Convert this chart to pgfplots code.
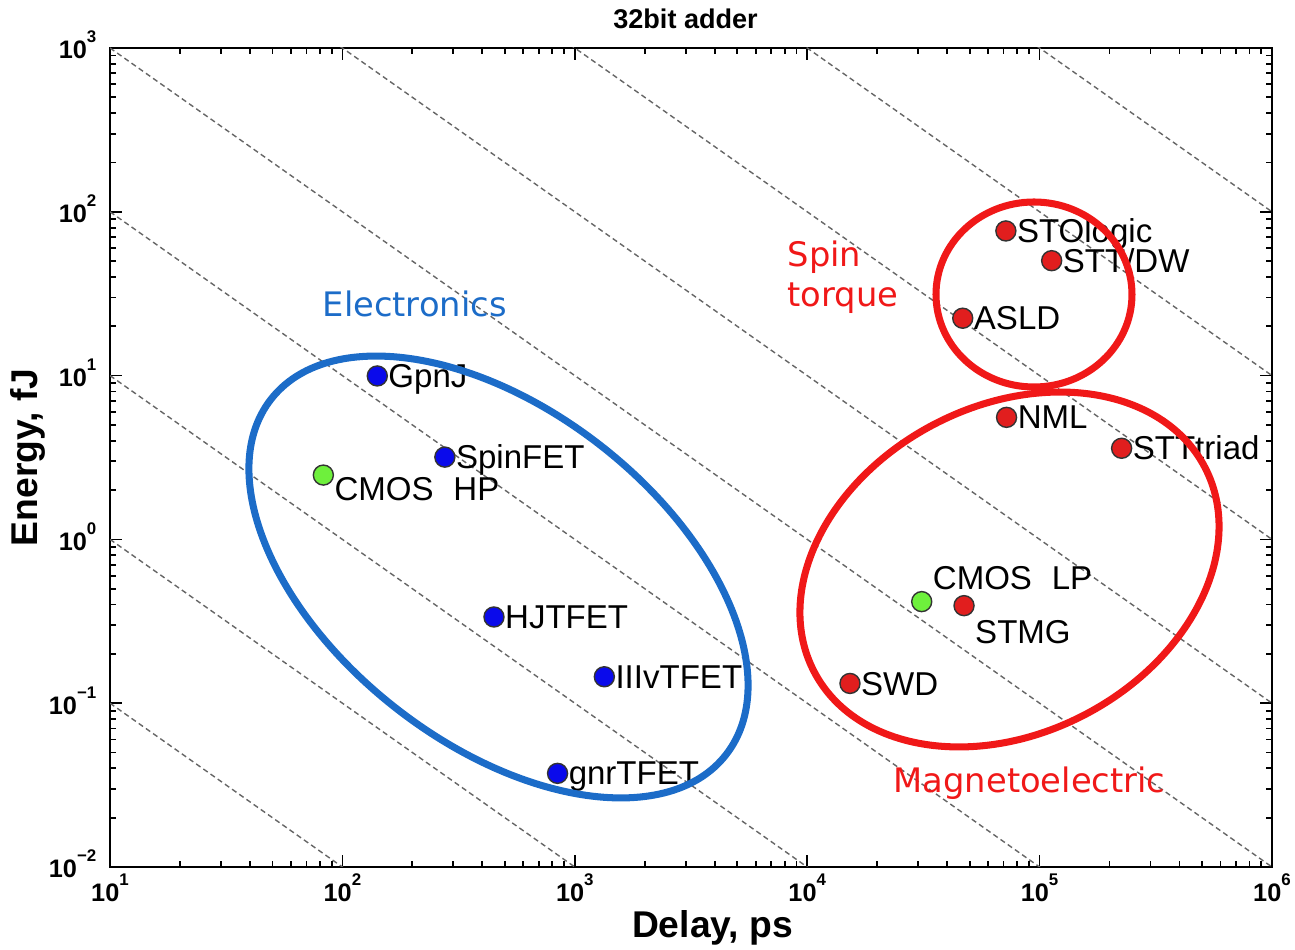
\documentclass[border=0pt]{standalone}
\usepackage{pgfplots}
\pgfplotsset{compat=1.18}
\usepackage{fontspec}
\setmainfont{Liberation Sans}
\newfontfamily\verd{DejaVu Sans}
\definecolor{eblue}{RGB}{28,108,200}
\definecolor{ered}{RGB}{240,24,24}
\definecolor{pblue}{RGB}{10,10,235}
\definecolor{pred}{RGB}{225,30,30}
\definecolor{pgreen}{RGB}{110,240,60}
\newcommand{\tl}[1]{\textbf{10}\raisebox{4.6pt}{\fontsize{4.8}{5}\selectfont\textbf{#1}}}
\tikzset{lab/.style={anchor=base west, inner sep=0pt, xshift=0.105cm, font=\fontsize{9.4}{11}\selectfont}}
\begin{document}
\begin{tikzpicture}
\path[use as bounding box] (-1.10,-0.83) rectangle (11.85,8.67);
\begin{axis}[
  at={(0,0)}, anchor=south west, scale only axis,
  width=11.62cm, height=8.19cm,
  xmode=log, ymode=log,
  xmin=10, xmax=1e6, ymin=1e-2, ymax=1e3,
  axis line style={line width=0.6pt},
  tick align=inside,
  major tick length=0.12cm, minor tick length=0.06cm,
  every tick/.append style={black, line width=0.5pt},
  xtick={1e1,1e2,1e3,1e4,1e5,1e6},
  xticklabels={\tl{1},\tl{2},\tl{3},\tl{4},\tl{5},\tl{6}},
  ytick={1e-2,1e-1,1,1e1,1e2,1e3},
  yticklabels={\tl{−2},\tl{−1},\tl{0},\tl{1},\tl{2},\tl{3}},
  minor xtick={20,30,40,50,60,70,80,90,200,300,400,500,600,700,800,900,2000,3000,4000,5000,6000,7000,8000,9000,20000,30000,40000,50000,60000,70000,80000,90000,200000,300000,400000,500000,600000,700000,800000,900000},
  minor ytick={0.02,0.03,0.04,0.05,0.06,0.07,0.08,0.09,0.2,0.3,0.4,0.5,0.6,0.7,0.8,0.9,2,3,4,5,6,7,8,9,20,30,40,50,60,70,80,90,200,300,400,500,600,700,800,900},
  xticklabel style={font=\fontsize{7.2}{8}\selectfont, anchor=base, inner sep=0pt, yshift=-0.35cm},
  yticklabel style={font=\fontsize{7.2}{8}\selectfont, anchor=base east, inner sep=0pt, xshift=-0.13cm, yshift=-0.11cm},
  every axis title shift=0pt,
  title={32bit adder},
  title style={font=\fontsize{7.7}{9}\selectfont\bfseries, at={(axis description cs:0.4953,1.0244)}, anchor=base, inner sep=0pt},
  xlabel={Delay, ps},
  xlabel style={font=\fontsize{10.6}{12}\selectfont\bfseries, at={(axis description cs:0.5185,-0.0855)}, anchor=base, inner sep=0pt},
  ylabel={Energy, fJ},
  ylabel style={font=\fontsize{10.6}{12}\selectfont\bfseries, at={(axis description cs:-0.0628,0.5)}, anchor=base, inner sep=0pt},
  clip=true,
]
% constant energy-delay product lines
\addplot[black!60, line width=0.4pt, dash pattern=on 1.5pt off 1pt, forget plot] coordinates {(10,1e-1) (1e6,1e-6)};
\addplot[black!60, line width=0.4pt, dash pattern=on 1.5pt off 1pt, forget plot] coordinates {(10,1) (1e6,1e-5)};
\addplot[black!60, line width=0.4pt, dash pattern=on 1.5pt off 1pt, forget plot] coordinates {(10,10) (1e6,1e-4)};
\addplot[black!60, line width=0.4pt, dash pattern=on 1.5pt off 1pt, forget plot] coordinates {(10,100) (1e6,1e-3)};
\addplot[black!60, line width=0.4pt, dash pattern=on 1.5pt off 1pt, forget plot] coordinates {(10,1e3) (1e6,1e-2)};
\addplot[black!60, line width=0.4pt, dash pattern=on 1.5pt off 1pt, forget plot] coordinates {(10,1e4) (1e6,1e-1)};
\addplot[black!60, line width=0.4pt, dash pattern=on 1.5pt off 1pt, forget plot] coordinates {(10,1e5) (1e6,1)};
\addplot[black!60, line width=0.4pt, dash pattern=on 1.5pt off 1pt, forget plot] coordinates {(10,1e6) (1e6,10)};
\addplot[black!60, line width=0.4pt, dash pattern=on 1.5pt off 1pt, forget plot] coordinates {(10,1e7) (1e6,100)};
% electronics
\addplot[only marks, mark=*, mark size=2.85pt, mark options={fill=pblue, draw=black!80, line width=0.4pt}]
  coordinates {(141.3,9.95) (276,3.18) (449,0.336) (1340,0.145) (843,0.0373)};
% CMOS
\addplot[only marks, mark=*, mark size=2.85pt, mark options={fill=pgreen, draw=black!80, line width=0.4pt}]
  coordinates {(82.8,2.47) (31100,0.417)};
% spin
\addplot[only marks, mark=*, mark size=2.85pt, mark options={fill=pred, draw=black!80, line width=0.4pt}]
  coordinates {(71600,76.4) (112700,50.3) (46700,22.4) (72100,5.56) (225400,3.60) (47300,0.394) (15280,0.132)};
\node[lab, yshift=-3.3pt] at (axis cs:141.3,9.95) {GpnJ};
\node[lab, yshift=-3.3pt] at (axis cs:276,3.18) {SpinFET};
\node[lab, yshift=-3.3pt] at (axis cs:449,0.336) {HJTFET};
\node[lab, yshift=-3.3pt] at (axis cs:1340,0.145) {IIIvTFET};
\node[lab, yshift=-3.3pt] at (axis cs:843,0.0373) {gnrTFET};
\node[lab, yshift=-0.25cm] at (axis cs:82.8,2.47) {CMOS\hspace{0.6em}HP};
\node[lab, yshift=0.117cm] at (axis cs:31100,0.417) {CMOS\hspace{0.6em}LP};
\node[lab, yshift=-3.3pt] at (axis cs:71600,76.4) {STOlogic};
\node[lab, yshift=-3.3pt] at (axis cs:112700,50.3) {STT/DW};
\node[lab, yshift=-3.3pt] at (axis cs:46700,22.4) {ASLD};
\node[lab, yshift=-3.3pt] at (axis cs:72100,5.56) {NML};
\node[lab, yshift=-3.3pt] at (axis cs:225400,3.60) {STTtriad};
\node[lab, yshift=-0.383cm] at (axis cs:47300,0.394) {STMG};
\node[lab, yshift=-3.3pt] at (axis cs:15280,0.132) {SWD};
\end{axis}
% group outlines
\draw[eblue, line width=2pt] (3.885,2.90) ellipse [x radius=2.887cm, y radius=1.665cm, rotate=-38];
\draw[ered, line width=2pt] (9.24,5.725) ellipse [x radius=0.98cm, y radius=0.925cm];
\draw[ered, line width=2pt] (8.995,2.975) ellipse [x radius=2.205cm, y radius=1.636cm, rotate=27.7];
% group names
\node[anchor=base west, inner sep=0pt, text=eblue, font=\verd\fontsize{9.6}{11}\selectfont] at (2.12,5.50) {Electronics};
\node[anchor=base west, inner sep=0pt, text=ered, font=\verd\fontsize{9.6}{11}\selectfont] at (6.77,6.00) {Spin};
\node[anchor=base west, inner sep=0pt, text=ered, font=\verd\fontsize{9.6}{11}\selectfont] at (6.77,5.60) {torque};
\node[anchor=base west, inner sep=0pt, text=ered, font=\verd\fontsize{9.6}{11}\selectfont] at (7.83,0.74) {Magnetoelectric};
\end{tikzpicture}
\end{document}
